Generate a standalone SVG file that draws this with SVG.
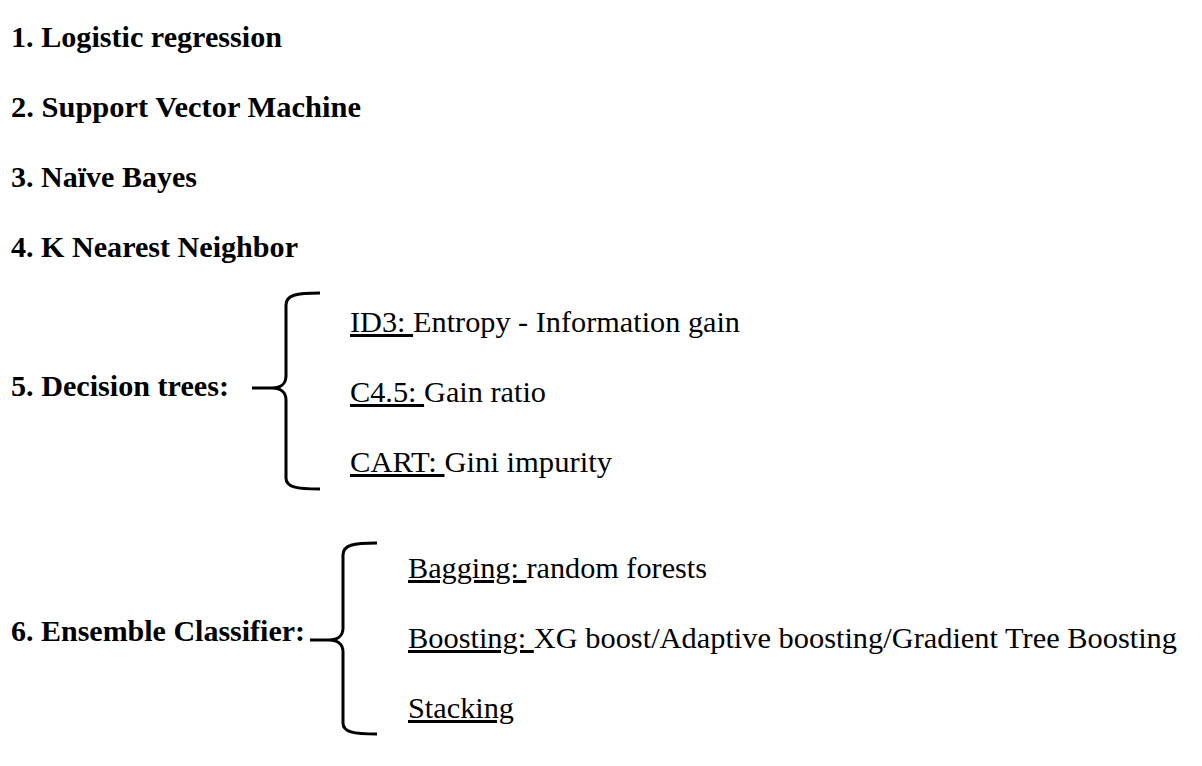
<svg xmlns="http://www.w3.org/2000/svg" width="1202" height="766" viewBox="0 0 1202 766">
<style>
text{font-family:'Liberation Serif','Tinos','Times New Roman','DejaVu Serif',serif;fill:#000}
.b{font-weight:bold;font-size:29px}
.r{font-size:30px}
.u{text-decoration:underline}
.br{fill:none;stroke:#000;stroke-width:3;stroke-linecap:butt;stroke-linejoin:round}
</style>
<rect width="1202" height="766" fill="#fff"/>
<g id="n1"><text class="b" font-family="Liberation Serif, DejaVu Serif, serif" x="11" y="47" textLength="271" lengthAdjust="spacingAndGlyphs">1. Logistic regression</text></g>
<g id="n2"><text class="b" font-family="Liberation Serif, DejaVu Serif, serif" x="11" y="117" textLength="350" lengthAdjust="spacingAndGlyphs">2. Support Vector Machine</text></g>
<g id="n3"><text class="b" font-family="Liberation Serif, DejaVu Serif, serif" x="11" y="187" textLength="186" lengthAdjust="spacingAndGlyphs">3. Naïve Bayes</text></g>
<g id="n4"><text class="b" font-family="Liberation Serif, DejaVu Serif, serif" x="11" y="257" textLength="287" lengthAdjust="spacingAndGlyphs">4. K Nearest Neighbor</text></g>
<g id="n5">
<text class="b" font-family="Liberation Serif, DejaVu Serif, serif" x="11" y="396" textLength="218" lengthAdjust="spacingAndGlyphs">5. Decision trees:</text>
<text class="r" font-family="Liberation Serif, DejaVu Serif, serif" x="350" y="332" textLength="390" lengthAdjust="spacingAndGlyphs"><tspan class="u">ID3: </tspan>Entropy - Information gain</text>
<text class="r" font-family="Liberation Serif, DejaVu Serif, serif" x="350" y="402" textLength="196" lengthAdjust="spacingAndGlyphs"><tspan class="u">C4.5: </tspan>Gain ratio</text>
<text class="r" font-family="Liberation Serif, DejaVu Serif, serif" x="350" y="472" textLength="262" lengthAdjust="spacingAndGlyphs"><tspan class="u">CART: </tspan>Gini impurity</text>
</g>
<g id="n6">
<text class="b" font-family="Liberation Serif, DejaVu Serif, serif" x="11" y="641" textLength="294" lengthAdjust="spacingAndGlyphs">6. Ensemble Classifier:</text>
<text class="r" font-family="Liberation Serif, DejaVu Serif, serif" x="408" y="578" textLength="299" lengthAdjust="spacingAndGlyphs"><tspan class="u">Bagging: </tspan>random forests</text>
<text class="r" font-family="Liberation Serif, DejaVu Serif, serif" x="408" y="648" textLength="769" lengthAdjust="spacingAndGlyphs"><tspan class="u">Boosting: </tspan>XG boost/Adaptive boosting/Gradient Tree Boosting</text>
<text class="r" font-family="Liberation Serif, DejaVu Serif, serif" x="408" y="718" textLength="106" lengthAdjust="spacingAndGlyphs"><tspan class="u">Stacking</tspan></text>
</g>
<g id="connectors">
<path class="br" d="M320,293 C296,293 286,295 286,305 L286,376 C286,384 280,388 272,388 L252,388 M272,388 C280,388 286,392 286,400 L286,478 C286,487 296,489 320,489"/>
<path class="br" d="M377,543 C353,543 343,545 343,555 L343,628 C343,636 337,640 329,640 L310,640 M329,640 C337,640 343,644 343,652 L343,723 C343,732 353,734 377,734"/>
</g>
</svg>
